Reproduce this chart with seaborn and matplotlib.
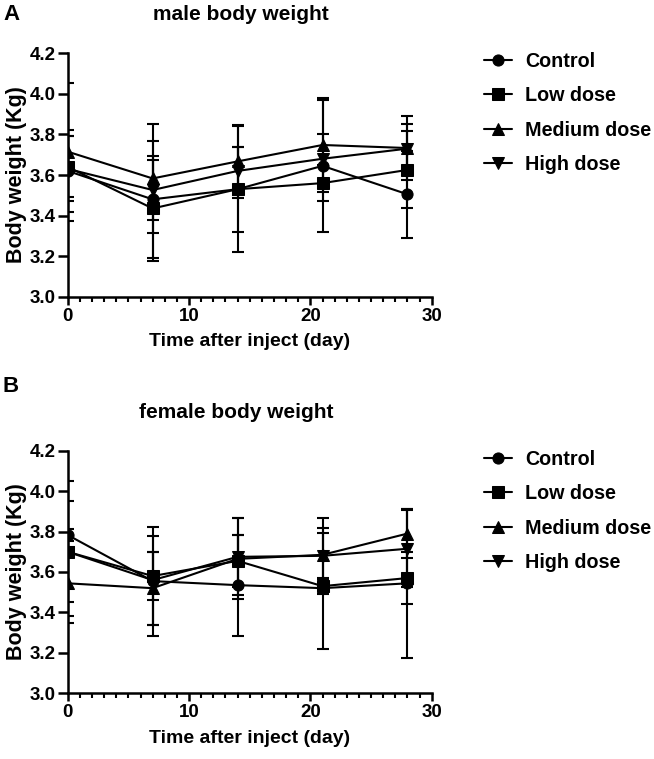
import numpy as np
import pandas as pd
import matplotlib
matplotlib.use("Agg")
import matplotlib.pyplot as plt
import seaborn as sns
from matplotlib.ticker import MultipleLocator, FormatStrFormatter

# ---- data ----
days = [0, 7, 14, 21, 28]
groups = ["Control", "Low dose", "Medium dose", "High dose"]
markers = ["o", "s", "^", "v"]

# male: mean / SD
control_m = [3.62, 3.48, 3.53, 3.645, 3.505]
low_m = [3.64, 3.435, 3.53, 3.56, 3.625]
medium_m = [3.715, 3.583, 3.667, 3.748, 3.733]
high_m = [3.63, 3.526, 3.62, 3.68, 3.73]
control_sd_m = [0.20, 0.29, 0.31, 0.325, 0.215]
low_sd_m = [0.15, 0.26, 0.21, 0.09, 0.19]
medium_sd_m = [0.34, 0.27, 0.18, 0.23, 0.158]
high_sd_m = [0.16, 0.15, 0.12, 0.12, 0.12]

# female: mean / SD
control_f = [3.783, 3.555, 3.535, 3.52, 3.544]
low_f = [3.70, 3.58, 3.655, 3.53, 3.57]
medium_f = [3.544, 3.52, 3.665, 3.685, 3.79]
high_f = [3.70, 3.56, 3.675, 3.68, 3.715]
control_sd_f = [0.03, 0.27, 0.25, 0.30, 0.37]
low_sd_f = [0.35, 0.12, 0.13, 0.04, 0.13]
medium_sd_f = [0.16, 0.18, 0.20, 0.18, 0.12]
high_sd_f = [0.25, 0.22, 0.19, 0.115, 0.19]


def build_df(means, sds):
    rows = []
    for g, m, s in zip(groups, means, sds):
        for d, mv, sv in zip(days, m, s):
            rows.append({"day": d, "group": g, "mean": mv, "sd": sv})
    return pd.DataFrame(rows)


male_df = build_df([control_m, low_m, medium_m, high_m],
                   [control_sd_m, low_sd_m, medium_sd_m, high_sd_m])
female_df = build_df([control_f, low_f, medium_f, high_f],
                     [control_sd_f, low_sd_f, medium_sd_f, high_sd_f])

sns.set_theme(style="ticks")
plt.rcParams["font.family"] = ["Liberation Sans", "DejaVu Sans"]
plt.rcParams["font.weight"] = "bold"
plt.rcParams["axes.labelweight"] = "bold"
plt.rcParams["text.color"] = "black"
plt.rcParams["axes.labelcolor"] = "black"
plt.rcParams["xtick.color"] = "black"
plt.rcParams["ytick.color"] = "black"

fig = plt.figure(figsize=(6.54, 7.59), dpi=100)
W, H = 654, 759


def add_axes(x0, y0, x1, y1):
    return fig.add_axes([x0 / W, 1 - y1 / H, (x1 - x0) / W, (y1 - y0) / H])


def draw_panel(ax, df):
    for g, mk in zip(groups, markers):
        sub = df[df["group"] == g]
        ax.errorbar(sub["day"], sub["mean"], yerr=sub["sd"], fmt="none",
                    ecolor="black", elinewidth=1.5, capsize=4.5, capthick=1.5,
                    zorder=2)
    sns.lineplot(data=df, x="day", y="mean", style="group", markers=markers,
                 dashes=False, color="black", linewidth=1.5, markersize=8,
                 markeredgecolor="black", ax=ax, legend=True, zorder=3)
    ax.set_xlim(0, 30)
    ax.set_ylim(3.0, 4.2)
    ax.xaxis.set_major_locator(MultipleLocator(10))
    ax.xaxis.set_minor_locator(MultipleLocator(1))
    ax.yaxis.set_major_locator(MultipleLocator(0.2))
    ax.yaxis.set_major_formatter(FormatStrFormatter("%.1f"))
    for side in ["top", "right"]:
        ax.spines[side].set_visible(False)
    for side in ["left", "bottom"]:
        ax.spines[side].set_linewidth(1.8)
        ax.spines[side].set_color("black")
    ax.tick_params(axis="y", which="major", direction="out", length=7.5,
                   width=1.8, labelsize=13.5, pad=1)
    ax.tick_params(axis="x", which="major", direction="out", length=6,
                   width=1.8, labelsize=13.5, pad=2)
    ax.tick_params(axis="x", which="minor", direction="out", length=3.5,
                   width=1.5)
    ax.set_xlabel("Time after inject (day)", fontsize=14, fontweight="bold",
                  labelpad=6)
    ax.set_ylabel("Body weight (Kg)", fontsize=15.5, fontweight="bold",
                  labelpad=2)
    for lab in ax.get_xticklabels() + ax.get_yticklabels():
        lab.set_fontweight("bold")
    ax.set_facecolor("white")
    ax.grid(False)
    handles, labels = ax.get_legend_handles_labels()
    ax.get_legend().remove()
    return handles, labels


ax1 = add_axes(67.7, 53.3, 431.7, 296.7)
h1, l1 = draw_panel(ax1, male_df)
ax2 = add_axes(67.7, 450.7, 431.7, 693.3)
h2, l2 = draw_panel(ax2, female_df)

for ax, h, l, ytop in [(ax1, h1, l1, 52), (ax2, h2, l2, 450)]:
    fig.legend(h, l, loc="upper left", bbox_to_anchor=(484 / W, 1 - ytop / H),
               frameon=False, handlelength=1.4, handletextpad=0.7,
               labelspacing=0.78, borderpad=0, borderaxespad=0,
               prop={"weight": "bold", "size": 14.2})

fig.text(241 / W, 1 - 15 / H, "male body weight", ha="center", va="center",
         fontsize=15, fontweight="bold")
fig.text(236 / W, 1 - 412 / H, "female body weight", ha="center", va="center",
         fontsize=15, fontweight="bold")
fig.text(3 / W, 1 - 15 / H, "A", ha="left", va="center", fontsize=16,
         fontweight="bold")
fig.text(3 / W, 1 - 386 / H, "B", ha="left", va="center", fontsize=16,
         fontweight="bold")

fig.savefig("out.png", dpi=100, facecolor="white")
